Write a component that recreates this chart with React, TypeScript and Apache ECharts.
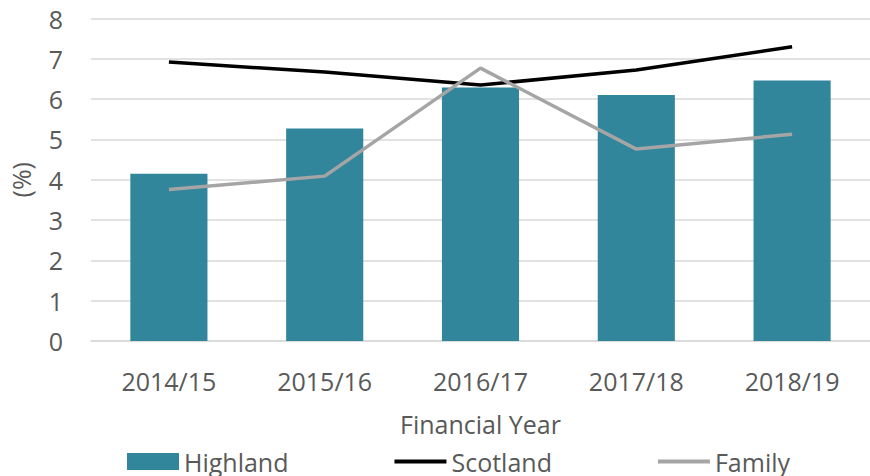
import React, { useEffect, useRef } from "react";
import * as echarts from "echarts";

const categories = ["2014/15", "2015/16", "2016/17", "2017/18", "2018/19"];
const highland = [4.15, 5.27, 6.29, 6.1, 6.46];
const scotland = [6.92, 6.67, 6.35, 6.72, 7.3];
const family = [3.76, 4.09, 6.77, 4.76, 5.13];
const yTicks = [0, 1, 2, 3, 4, 5, 6, 7, 8];

const FONT = "'Open Sans', 'Noto Sans', sans-serif";
const TEXT = "#595959";
const LINE_ICON = "path://M0,0 L0,0 M52,17 L52,17 M0,6.6 L52,6.6 L52,10.4 L0,10.4 Z";

export default function App() {
  const ref = useRef<HTMLDivElement>(null);
  useEffect(() => {
    if (!ref.current) return;
    const chart = echarts.init(ref.current, undefined, { renderer: "svg" });
    chart.setOption({
      animation: false,
      textStyle: { fontFamily: FONT },
      grid: { left: 89, right: -8, top: 18.5, bottom: 135 },
      legend: {
        left: 127,
        top: 449,
        padding: 0,
        itemWidth: 52,
        itemHeight: 17,
        itemGap: 106,
        textStyle: { fontFamily: FONT, fontSize: 25, lineHeight: 20, color: TEXT },
        data: [
          { name: "Highland", icon: "rect" },
          { name: "Scotland", icon: LINE_ICON },
          { name: "Family", icon: LINE_ICON },
        ],
      },
      xAxis: {
        type: "category",
        data: categories,
        axisLine: { show: true, lineStyle: { color: "#D9D9D9", width: 1.5 } },
        axisTick: { show: false },
        axisLabel: { fontFamily: FONT, fontSize: 25, color: TEXT, margin: 27 },
        name: "Financial Year",
        nameLocation: "middle",
        nameGap: 70,
        nameTextStyle: { fontFamily: FONT, fontSize: 25, color: TEXT },
      },
      yAxis: {
        type: "value",
        min: yTicks[0],
        max: yTicks[yTicks.length - 1],
        interval: 1,
        axisLine: { show: false },
        axisTick: { show: false },
        splitLine: { lineStyle: { color: "#D9D9D9", width: 1.5 } },
        axisLabel: { fontFamily: FONT, fontSize: 25, color: TEXT, margin: 28 },
        name: "(%)",
        nameLocation: "middle",
        nameGap: 58,
        nameRotate: 90,
        nameTextStyle: { fontFamily: FONT, fontSize: 25, color: TEXT },
      },
      series: [
        {
          name: "Highland",
          type: "bar",
          data: highland,
          barWidth: "49.5%",
          itemStyle: { color: "#31869B" },
        },
        {
          name: "Scotland",
          type: "line",
          data: scotland,
          symbol: "none",
          lineStyle: { color: "#000000", width: 3.5 },
          itemStyle: { color: "#000000" },
        },
        {
          name: "Family",
          type: "line",
          data: family,
          symbol: "none",
          lineStyle: { color: "#A5A5A5", width: 3.5 },
          itemStyle: { color: "#A5A5A5" },
        },
      ],
    });
    return () => chart.dispose();
  }, []);
  return <div ref={ref} style={{ width: 870, height: 476, position: "absolute", left: 0, top: 0 }} />;
}
